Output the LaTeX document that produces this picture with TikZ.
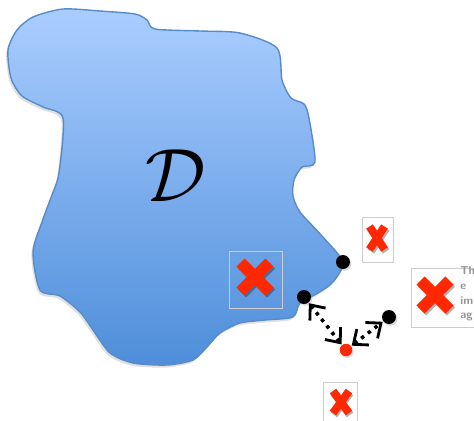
\documentclass[tikz,border=0pt]{standalone}
\usepackage{tikz}
\usetikzlibrary{arrows.meta, shapes.misc, shadows}
\usepackage{xcolor}
\definecolor{regiontop}{RGB}{170,205,255}
\definecolor{regionbot}{RGB}{78,142,218}
\definecolor{edgeblue}{RGB}{88,140,200}
\definecolor{xred}{RGB}{255,40,0}
\definecolor{boxgray}{RGB}{205,205,205}

\begin{document}
\begin{tikzpicture}[
    x=0.02cm, y=-0.02cm,
    region/.style={draw=edgeblue, line width=0.8pt, top color=regiontop, bottom color=regionbot,
        drop shadow={opacity=0.25, shadow xshift=-1pt, shadow yshift=-1.5pt}},
    dot/.style={circle, fill=black, inner sep=0pt, minimum size=0.28cm,
        drop shadow={opacity=0.3, shadow xshift=0.8pt, shadow yshift=-1pt}},
    reddot/.style={dot, fill=xred, minimum size=0.25cm},
    imgbox/.style={rectangle, draw=boxgray, line width=0.5pt, inner sep=0pt},
    xmark/.style={cross out, draw=xred, inner sep=0pt, outer sep=0pt},
    xshade/.style={cross out, draw=black, opacity=0.3, inner sep=0pt, outer sep=0pt},
    link/.style={{Straight Barb[length=2.4mm, width=4mm, line width=1.6pt]}-{Straight Barb[length=2.4mm, width=4mm, line width=1.6pt]},
        line width=2pt, dash pattern=on 2pt off 2.8pt, shorten >=0.3pt, shorten <=0.3pt}
]
\clip (0,0) rectangle (474,420);

% the domain
\path[region] plot[smooth cycle, tension=0.45] coordinates {
    (63,9) (100,11) (135,14) (147,20) (155,29) (200,31) (240,33) (277,48)
    (282,80) (291,98) (304,104) (309,118) (315,162) (302,167) (294,180)
    (293,196) (300,212) (322,236) (343,262) (333,282) (318,293) (300,303)
    (293,317) (265,320) (240,323) (220,333) (207,347) (193,360) (167,365)
    (133,363) (110,353) (93,330) (80,312) (60,296) (40,290) (33,252)
    (42,222) (52,195) (59,173) (63,118) (43,107) (22,96) (11,78) (8,50)
    (17,30) (33,17)};
\node (dee) at (176,176) {\scalebox{4.3}{$\mathcal{D}$}};

% missing pictures
\node[imgbox, minimum width=1.06cm, minimum height=1.14cm] (img1) at (256,279.5) {};
\node[xshade, line width=6.5pt, minimum size=0.58cm] at (256.5,279) {};
\node[xmark, line width=6.5pt, minimum size=0.58cm] (x1) at (255,277) {};

\node[imgbox, fill=white, minimum width=0.62cm, minimum height=0.9cm] (img2) at (377.5,239.5) {};
\node[xshade, line width=4.5pt, minimum width=0.3cm, minimum height=0.46cm] at (378.5,240) {};
\node[xmark, line width=4.5pt, minimum width=0.3cm, minimum height=0.46cm] (x2) at (377,238) {};

\node[imgbox, fill=white, minimum width=1.4cm, minimum height=1.18cm] (img3) at (446,297.5) {};
\node[xshade, line width=6.5pt, minimum size=0.58cm] at (436.5,297) {};
\node[xmark, line width=6.5pt, minimum size=0.58cm] (x3) at (435,295) {};
\node[anchor=west, align=left, text=gray!85, inner sep=0pt,
      font=\sffamily\bfseries\fontsize{6.5}{8.4}\selectfont] (cap3) at (460,294) {Th\\e\\im\\ag};

\node[imgbox, fill=white, minimum width=0.68cm, minimum height=0.9cm] (img4) at (340,405) {};
\node[xshade, line width=4.5pt, minimum width=0.32cm, minimum height=0.44cm] at (342,404) {};
\node[xmark, line width=4.5pt, minimum width=0.32cm, minimum height=0.44cm] (x4) at (341,402) {};

% points
\node[dot] (top) at (343,262) {};
\node[dot] (left) at (304,297) {};
\node[dot] (right) at (389,317) {};
\node[reddot] (red) at (346,350) {};

\draw[link] (red) -- (left);
\draw[link] (red) -- (right);
\end{tikzpicture}
\end{document}
